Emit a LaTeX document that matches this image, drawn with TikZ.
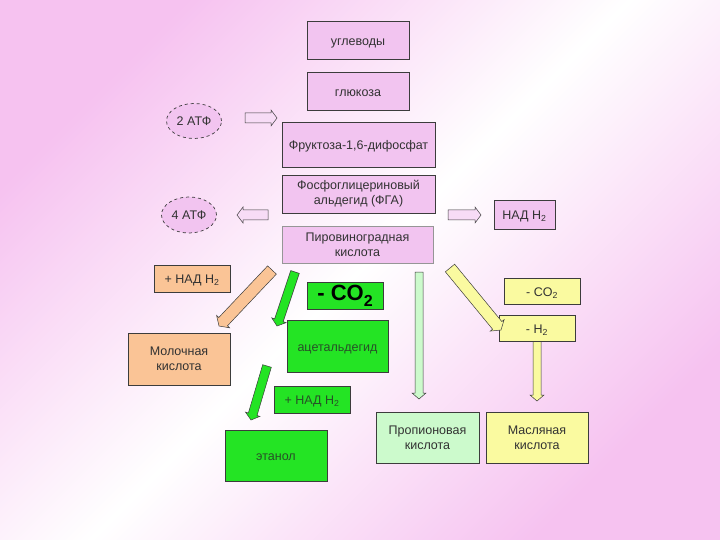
\documentclass[tikz,border=0pt]{standalone}
\usepackage{fontspec}
\setmainfont{Liberation Sans}
\usetikzlibrary{calc,shapes.geometric}
\definecolor{bgpink}{RGB}{246,194,240}
\definecolor{boxpink}{RGB}{242,196,240}
\definecolor{peach}{RGB}{250,196,150}
\definecolor{grn}{RGB}{36,228,36}
\definecolor{ltgrn}{RGB}{204,250,204}
\definecolor{ylw}{RGB}{250,250,160}
\definecolor{edge}{RGB}{60,60,60}
\definecolor{txt}{RGB}{50,50,50}
\pgfdeclarehorizontalshading{bgshade}{100bp}{color(0bp)=(bgpink); color(25bp)=(bgpink); color(50bp)=(white); color(75bp)=(bgpink); color(100bp)=(bgpink)}
\newcommand\barrow[4]{%
  \coordinate (bp) at ($(#2)!6pt!(#1)$);
  \draw[#4] ($(#1)!#3!90:(#2)$) -- ($(bp)!#3!90:(#2)$) -- ($(bp)!#3+3pt!90:(#2)$) -- (#2)
    -- ($(bp)!#3+3pt!-90:(#2)$) -- ($(bp)!#3!-90:(#2)$) -- ($(#1)!#3!-90:(#2)$) -- cycle;}
\begin{document}
\begin{tikzpicture}[x=1pt,y=-1pt,
  base/.style={draw=edge, line width=0.7pt, align=center, inner sep=1pt, text=txt,
    font=\fontsize{12.5}{15}\selectfont},
  one/.style={text height=10.5pt, text depth=0pt},
  pbox/.style={base, fill=boxpink},
  obox/.style={base, fill=peach},
  gbox/.style={base, fill=grn, text={rgb,255:red,40;green,80;blue,40}},
  lgbox/.style={base, fill=ltgrn},
  ybox/.style={base, fill=ylw},
  ell/.style={base, ellipse, dashed, fill=boxpink, inner sep=0pt},
  parr/.style={draw=edge, line width=0.5pt, fill=boxpink!60!white},
  oarr/.style={draw=edge, line width=0.5pt, fill=peach},
  garr/.style={draw=edge, line width=0.5pt, fill=grn},
  lgarr/.style={draw=edge, line width=0.5pt, fill=ltgrn},
  yarr/.style={draw=edge, line width=0.5pt, fill=ylw}]
\useasboundingbox (0,0) rectangle (720,540);
\shade[shading=bgshade, shading angle=-45] (0,0) rectangle (720,540);

% arrows first
\coordinate (a2s) at (245,118); \coordinate (a2e) at (277,118);
\coordinate (a4s) at (268,215); \coordinate (a4e) at (237,215);
\coordinate (ans) at (448,215); \coordinate (ane) at (481,215);
\coordinate (os) at (272,270); \coordinate (oe) at (219,326);
\coordinate (g1s) at (295,272); \coordinate (g1e) at (277,326);
\coordinate (g2s) at (267,366); \coordinate (g2e) at (251,420);
\coordinate (ls) at (419,272); \coordinate (le) at (419,399);
\coordinate (ys) at (450,268); \coordinate (ye) at (501,330);
\coordinate (vs) at (537,341); \coordinate (ve) at (537,401);
\barrow{a2s}{a2e}{5pt}{parr}
\barrow{a4s}{a4e}{5pt}{parr}
\barrow{ans}{ane}{5pt}{parr}
\barrow{os}{oe}{6pt}{oarr}
\barrow{g1s}{g1e}{4.5pt}{garr}
\barrow{g2s}{g2e}{4.5pt}{garr}
\barrow{ls}{le}{4pt}{lgarr}
\barrow{vs}{ve}{4pt}{yarr}

\node[pbox, one, minimum width=102pt, minimum height=38pt] (ugl) at (358,40) {углеводы};
\node[pbox, one, minimum width=102pt, minimum height=38pt] (glu) at (358,91) {глюкоза};
\node[ell, minimum width=55pt, minimum height=35pt] (atf2) at (194,121) {2 АТФ};
\node[pbox, one, minimum width=153pt, minimum height=45pt] (fru) at (358.5,144.5) {Фруктоза-1,6-дифосфат};
\node[pbox, minimum width=153pt, minimum height=38pt] (fga) at (358.5,194) {Фосфоглицериновый\\альдегид (ФГА)};
\node[ell, minimum width=55pt, minimum height=36pt] (atf4) at (189,215) {4 АТФ};
\node[pbox, one, minimum width=61pt, minimum height=29pt] (nad1) at (524.5,214.5) {НАД H\textsubscript{2}};
\node[pbox, draw={rgb,255:red,150;green,150;blue,150}, minimum width=151pt, minimum height=37pt] (pvk) at (357.5,244.5) {Пировиноградная\\кислота};
\node[obox, one, minimum width=76pt, minimum height=27pt] (nado) at (192,278.5) {+ НАД H\textsubscript{2}};
\node[gbox, text=black, minimum width=76pt, minimum height=27pt, font=\bfseries\fontsize{22}{22}\selectfont] (co2g) at (345,295.5) {- CO\raisebox{-6pt}{\fontsize{16}{16}\selectfont 2}};
\node[gbox, one, minimum width=101pt, minimum height=52pt] (acet) at (337.5,346) {ацетальдегид};
\node[obox, minimum width=102pt, minimum height=52pt] (mol) at (179,359) {Молочная\\кислота};
\node[gbox, one, minimum width=76pt, minimum height=27pt] (nadg) at (312,399.5) {+ НАД H\textsubscript{2}};
\node[gbox, one, minimum width=102pt, minimum height=51pt] (eth) at (276,455.5) {этанол};
\node[lgbox, minimum width=103pt, minimum height=51pt] (prop) at (427.5,437.5) {Пропионовая\\кислота};
\node[ybox, minimum width=102pt, minimum height=51pt] (mas) at (537,437.5) {Масляная\\кислота};
\node[ybox, one, minimum width=76pt, minimum height=26pt] (co2y) at (542,291) {- CO\textsubscript{2}};
\node[ybox, one, minimum width=76pt, minimum height=26pt] (h2y) at (537,328) {- H\textsubscript{2}};
\barrow{ys}{ye}{6pt}{yarr}
\end{tikzpicture}
\end{document}
